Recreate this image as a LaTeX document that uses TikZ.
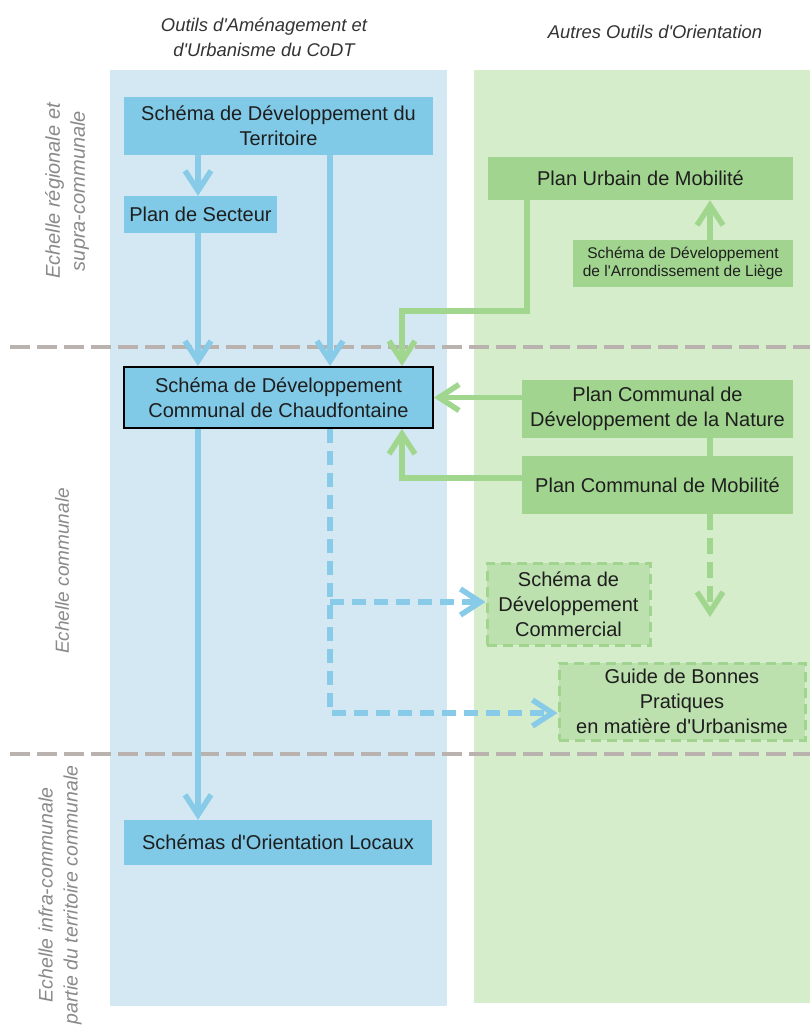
\documentclass[tikz,border=0pt]{standalone}
\usepackage{fontspec}
\setmainfont{Liberation Sans}[Ligatures=TeXOff]
\usetikzlibrary{arrows.meta}
\definecolor{bluebg}{HTML}{D3E8F2}
\definecolor{greenbg}{HTML}{D6EDCB}
\definecolor{bluenode}{HTML}{80C9E7}
\definecolor{blueline}{HTML}{88CBE9}
\definecolor{greennode}{HTML}{A1D58F}
\definecolor{greenline}{HTML}{A0D68D}
\definecolor{greendash}{HTML}{BCE0AE}
\definecolor{graydash}{HTML}{BAB2AE}
\definecolor{txt}{HTML}{1E1E1E}
\definecolor{hdr}{HTML}{333333}
\definecolor{lbl}{HTML}{8A8A8A}
\begin{document}
\begin{tikzpicture}[x=1pt,y=-1pt,
  box/.style={inner sep=0pt, align=center, text=txt, font=\fontsize{20}{25}\selectfont},
  bbox/.style={box, fill=bluenode},
  gbox/.style={box, fill=greennode},
  dbox/.style={box, fill=greendash, draw=greennode, line width=3pt, dash pattern=on 10pt off 6pt},
  barr/.style={draw=blueline, line width=5.5pt, -{Straight Barb[length=20pt,width=26pt]}},
  bdarr/.style={barr, dash pattern=on 14pt off 8pt},
  garr/.style={draw=greenline, line width=5.5pt, -{Straight Barb[length=20pt,width=26pt]}},
  gline/.style={draw=greenline, line width=5.5pt},
  gdarr/.style={garr, dash pattern=on 16pt off 8pt},
  sep/.style={draw=graydash, line width=4pt, dash pattern=on 20pt off 7pt},
  hdrtxt/.style={text=hdr, font=\fontsize{18.4}{25}\selectfont\itshape, align=center},
  lbltxt/.style={text=lbl, font=\fontsize{20}{25}\selectfont\itshape, align=center, rotate=90}
]
\useasboundingbox (0,0) rectangle (810,1031);
\fill[white] (0,0) rectangle (810,1031);
% columns
\fill[bluebg] (110,70) rectangle (447,1006);
\fill[greenbg] (474,70) rectangle (810,1003);
% headers
\node[hdrtxt] (h1) at (264,37) {Outils d'Aménagement et\\d'Urbanisme du CoDT};
\node[hdrtxt] (h2) at (655,32) {Autres Outils d'Orientation};
% separators
\coordinate (s1a) at (10,347); \coordinate (s1b) at (810,347);
\coordinate (s2a) at (10,754); \coordinate (s2b) at (810,754);
\draw[sep] (s1a) -- (s1b);
\draw[sep] (s2a) -- (s2b);
% left labels
\node[lbltxt] (l1) at (67,191) {Echelle régionale et\\supra-communale};
\node[lbltxt, font=\fontsize{19}{25}\selectfont\itshape] (l2) at (62,571) {Echelle communale};
\node[lbltxt, font=\fontsize{19.5}{25}\selectfont\itshape] (l3) at (60,895) {Echelle infra-communale\\partie du territoire communale};
% nodes
\node[bbox, minimum width=309pt, minimum height=58pt] (sdt) at (278.5,126) {Schéma de Développement du\\Territoire};
\node[bbox, minimum width=153pt, minimum height=37pt] (pds) at (200.5,214.5) {Plan de Secteur};
\node[bbox, draw=black, line width=2pt, minimum width=309pt, minimum height=61pt] (sdc) at (278.5,397.5) {Schéma de Développement\\Communal de Chaudfontaine};
\node[bbox, minimum width=308pt, minimum height=45pt] (sol) at (278,842.5) {Schémas d'Orientation Locaux};
\node[gbox, minimum width=305pt, minimum height=43pt] (pum) at (640.5,178.5) {Plan Urbain de Mobilité};
\node[gbox, minimum width=220pt, minimum height=47pt, font=\fontsize{15.5}{18}\selectfont] (sdal) at (683,263.5) {Schéma de Développement\\de l'Arrondissement de Liège};
\node[gbox, minimum width=271pt, minimum height=58pt] (pcdn) at (657.5,409) {Plan Communal de\\Développement de la Nature};
\node[gbox, minimum width=271pt, minimum height=58pt] (pcm) at (657.5,485) {Plan Communal de Mobilité};
\node[dbox, minimum width=163pt, minimum height=82pt] (sdcom) at (568.5,604) {Schéma de\\Développement\\Commercial};
\node[dbox, minimum width=246pt, minimum height=77pt] (gbp) at (682,701.5) {Guide de Bonnes\\Pratiques\\en matière d'Urbanisme};
% helper coordinates
\coordinate (xb) at (198,0);
\coordinate (xm) at (330,0);
\coordinate (xg) at (527,0);
\coordinate (j1) at (402,311);
\coordinate (j2) at (402,478);
\coordinate (xr) at (710,0);
\coordinate (pend) at (710,617);
\coordinate (d1) at (330,602);
\coordinate (d2) at (330,713);
% connectors
\draw[barr] (sdt.south -| xb) -- (pds.north -| xb);
\draw[barr] (pds.south -| xb) -- (sdc.north -| xb);
\draw[barr] (sdt.south -| xm) -- (sdc.north -| xm);
\draw[barr] (sdc.south -| xb) -- (sol.north -| xb);
\draw[garr] (pum.south -| xg) |- (j1) -- (sdc.north -| j1);
\draw[garr] (sdal.north -| xr) -- (pum.south -| xr);
\draw[garr] (pcdn.west |- sdc.east) -- (sdc.east);
\draw[garr] (pcm.west |- j2) -- (j2) -- (sdc.south -| j2);
\draw[gline] (pcdn.south -| xr) -- (pcm.north -| xr);
\draw[gdarr] (pcm.south -| xr) -- (pend);
\draw[bdarr] (sdc.south -| xm) -- (d2) -- (gbp.west |- d2);
\draw[bdarr] (d1) -- (sdcom.west |- d1);
\end{tikzpicture}
\end{document}
